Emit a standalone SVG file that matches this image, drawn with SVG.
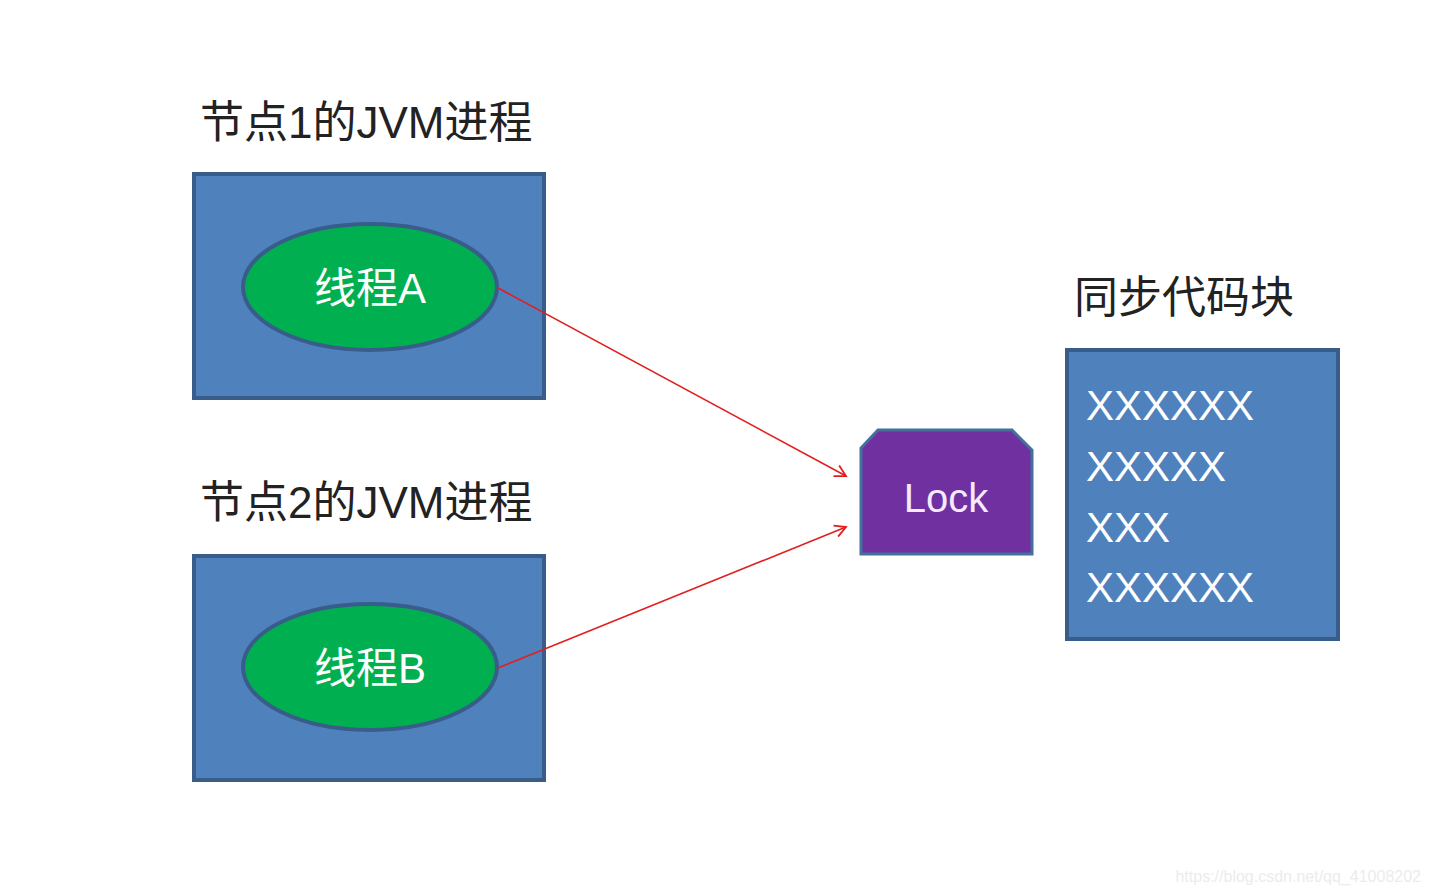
<svg xmlns="http://www.w3.org/2000/svg" width="1430" height="894" viewBox="0 0 1430 894">
<defs>
<style>
.box{fill:#4f81bd;stroke:#385d8a;stroke-width:4}
.ell{fill:#00b050;stroke:#385d8a;stroke-width:4}
.t{font-family:"Liberation Sans","Noto Sans CJK SC",sans-serif}
.lbl{font-size:44px;fill:#222}
.w{font-size:42px;fill:#fff}
.c{stroke:#e02020;stroke-width:1.6;fill:none}
</style>
<marker id="a" markerWidth="14" markerHeight="14" refX="12" refY="7" orient="auto" markerUnits="userSpaceOnUse">
<path d="M1,1 L12,7 L1,13" fill="none" stroke="#e02020" stroke-width="1.8"/>
</marker>
</defs>
<rect width="1430" height="894" fill="#fff"/>
<g id="node1">
<text class="t lbl" x="200" y="138">节点1的JVM进程</text>
<rect class="box" x="194" y="174" width="350" height="224"/>
<ellipse class="ell" cx="370" cy="287" rx="127" ry="63"/>
<text class="t w" x="370" y="303" text-anchor="middle">线程A</text>
</g>
<g id="node2">
<text class="t lbl" x="200" y="518">节点2的JVM进程</text>
<rect class="box" x="194" y="556" width="350" height="224"/>
<ellipse class="ell" cx="370" cy="667" rx="127" ry="63"/>
<text class="t w" x="370" y="683" text-anchor="middle">线程B</text>
</g>
<g id="lock">
<path d="M878,430 H1012 L1032,450 V554 H861 V448 Z" fill="#7030a0" stroke="#41719c" stroke-width="3"/>
<text class="t" x="946" y="512" text-anchor="middle" font-size="40" fill="#f4eaff">Lock</text>
</g>
<g id="sync">
<text class="t lbl" x="1074" y="313">同步代码块</text>
<rect class="box" x="1067" y="350" width="271" height="289"/>
<text class="t w" x="1086" y="420">XXXXXX</text>
<text class="t w" x="1086" y="481">XXXXX</text>
<text class="t w" x="1086" y="542">XXX</text>
<text class="t w" x="1086" y="602">XXXXXX</text>
</g>
<g id="connectors">
<line class="c" x1="498" y1="288" x2="846" y2="476" marker-end="url(#a)"/>
<line class="c" x1="498" y1="668" x2="846" y2="527" marker-end="url(#a)"/>
</g>
<text class="t" x="1421" y="882" text-anchor="end" font-size="16" fill="#ececec">https://blog.csdn.net/qq_41008202</text>
</svg>
